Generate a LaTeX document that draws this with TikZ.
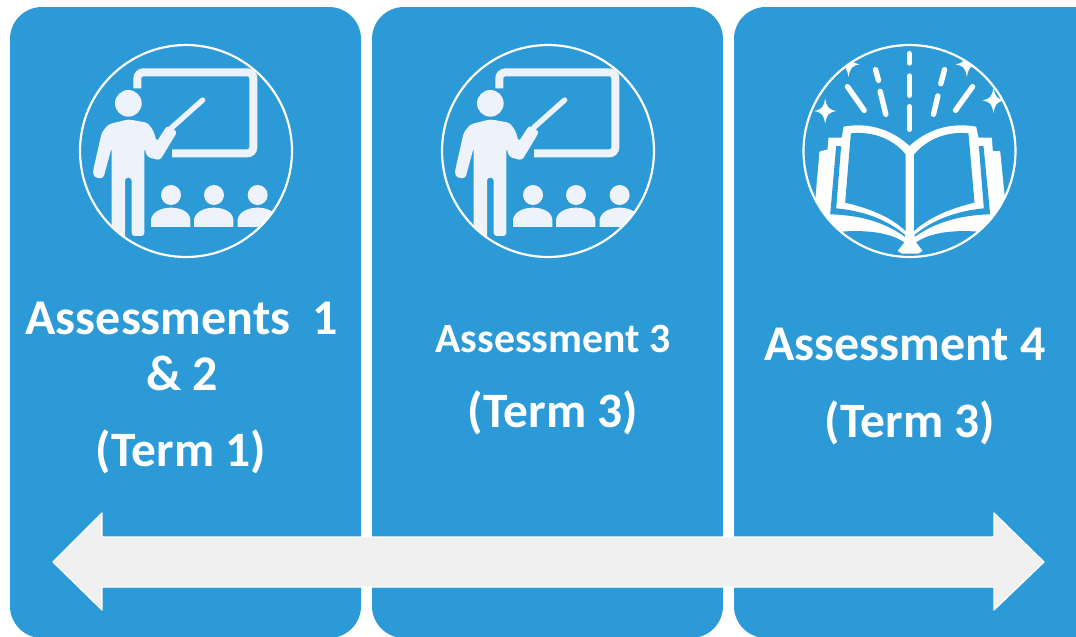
\documentclass[tikz,border=0pt]{standalone}
\usepackage{fontspec}
\setmainfont{Carlito}
\definecolor{panelblue}{HTML}{2C9AD6}
\definecolor{iconfill}{HTML}{EEF2FB}
\definecolor{arrowgray}{HTML}{F0F0F0}
\tikzset{
	panel/.style={fill=panelblue, rounded corners=32pt},
	ring/.style={draw=white, line width=2.2pt},
	headline/.style={text=white, font=\bfseries\fontsize{50}{50}\selectfont, inner sep=0pt},
	smallline/.style={text=white, font=\bfseries\fontsize{41.7}{42}\selectfont, inner sep=0pt},
	termline/.style={text=white, font=\bfseries\fontsize{49.5}{50}\selectfont, inner sep=0pt},
	ray/.style={draw=white, line width=5.4pt, line cap=round},
	teacher/.pic={
		\begin{scope}[x=0.3333pt, y=-0.3333pt, shift={(-378,-360)}]
			\begin{scope}
				\clip (378,360) circle (318);
				% Board
				\draw[iconfill, line width=8pt, rounded corners=6pt] (232,172) -- (232,124) -- (580,124) -- (580,367) -- (336,367);
				% Person
				\fill[iconfill] (205,217) circle (40);
				\fill[iconfill, rounded corners=3pt] (125,305) -- (98,425) -- (104,440) -- (130,442) -- (155,350) -- (155,640) -- (195,640) -- (195,440) -- (215,440) -- (215,615) -- (253,615) -- (253,350) -- (262,378) -- (300,388) -- (352,302) -- (322,283) -- (290,332) -- (280,298) -- (262,275) -- (205,265) -- (145,280) -- cycle;
				\draw[iconfill, line width=5.4pt, line cap=round] (335,290) -- (428,207);
				% Students
				\foreach \sx in {333,462,593} {
					\fill[iconfill] (\sx,492) circle (30);
					\fill[iconfill] (\sx-60,588) -- (\sx-60,565) .. controls (\sx-55,540) and (\sx-25,530) .. (\sx,530) .. controls (\sx+25,530) and (\sx+55,540) .. (\sx+58,565) -- (\sx+58,588) -- cycle;
				}
			\end{scope}
			\draw[ring] (378,360) circle (318);
		\end{scope}
	},
	sparkle/.pic={
		\fill[white] (0,-38) .. controls (5,-10) and (10,-5) .. (33,0) .. controls (10,5) and (5,10) .. (0,38) .. controls (-5,10) and (-10,5) .. (-33,0) .. controls (-10,-5) and (-5,-10) .. (0,-38) -- cycle;
	},
	openbook/.pic={
		\begin{scope}[x=0.3333pt, y=-0.3333pt, shift={(-358,-360)}]
			\begin{scope}
				\clip (358,360) circle (318);
				% Rays
				\draw[ray] (358,68) -- (358,96);
				\draw[ray] (358,135) -- (358,193);
				\draw[ray] (358,227) -- (358,295);
				\draw[ray] (256,116) -- (265,148);
				\draw[ray] (270,181) -- (287,250);
				\draw[ray] (172,167) -- (222,238);
				\draw[ray] (463,116) -- (452,158);
				\draw[ray] (443,195) -- (430,250);
				\draw[ray] (547,167) -- (496,238);
				% Sparkles
				\path (105,240) pic {sparkle};
				\path (175,100) pic {sparkle};
				\path (530,100) pic {sparkle};
				\path (610,208) pic {sparkle};
				% Book body
				\fill[white] (160,287) .. controls (240,272) and (310,300) .. (358,345) .. controls (406,300) and (476,272) .. (558,287) -- (565,320) -- (605,320) -- (608,360) -- (630,360) -- (645,510) -- (645,700) -- (70,700) -- (75,510) -- (88,362) -- (112,355) -- (115,320) -- (155,320) -- cycle;
				% Pages
				\fill[panelblue] (182,307) .. controls (250,300) and (310,325) .. (346,370) -- (346,600) .. controls (300,555) and (230,530) .. (165,515) -- cycle;
				\fill[panelblue] (535,307) .. controls (470,300) and (410,325) .. (372,370) -- (372,600) .. controls (420,555) and (490,530) .. (553,515) -- cycle;
				\fill[panelblue] (138,345) -- (153,345) -- (138,532) .. controls (220,540) and (290,565) .. (345,612) -- (345,618) .. controls (280,570) and (200,552) .. (120,550) -- cycle;
				\fill[panelblue] (580,345) -- (566,345) -- (581,532) .. controls (500,540) and (430,565) .. (373,612) -- (373,618) .. controls (440,570) and (520,552) .. (600,550) -- cycle;
				% Ground under the book
				\fill[panelblue] (140,603) .. controls (230,595) and (300,605) .. (342,634) -- (322,660) -- (335,668) -- (385,668) -- (398,660) -- (378,634) .. controls (420,605) and (490,595) .. (577,603) -- (600,700) -- (120,700) -- cycle;
			\end{scope}
			\draw[ring] (358,360) circle (318);
		\end{scope}
	}
}
\begin{document}
\begin{tikzpicture}[x=1pt, y=-1pt]
	\useasboundingbox (0,0) rectangle (1076,637);
	\clip (0,0) rectangle (1076,637);
	
	% Panels
	\fill[panel] (10,7) rectangle (361,638);
	\fill[panel] (372,7) rectangle (723,638);
	\fill[panel] (734,7) rectangle (1115,638);
	
	% Icons
	\path (186,151) pic {teacher};
	\path (548,151) pic {teacher};
	\path (909.5,151) pic {openbook};
	
	% Panel texts
	\node[headline] (first) at (182,318) {Assessments \ 1};
	\node[headline] (firstb) at (182,373) {\& 2};
	\node[termline] (firstterm) at (181,452) {(Term 1)};
	\node[smallline] (second) at (553,339) {Assessment 3};
	\node[termline] (secondterm) at (553,412.5) {(Term 3)};
	\node[headline] (third) at (905,344) {Assessment 4};
	\node[termline] (thirdterm) at (910,422.5) {(Term 3)};
	
	% Time arrow
	\draw[draw=white, fill=arrowgray, line width=1.2pt, line join=round] (53,562) -- (102,513) -- (102,537) -- (994,537) -- (994,513) -- (1044,562) -- (994,610) -- (994,587) -- (102,587) -- (102,610) -- cycle;
\end{tikzpicture}
\end{document}
